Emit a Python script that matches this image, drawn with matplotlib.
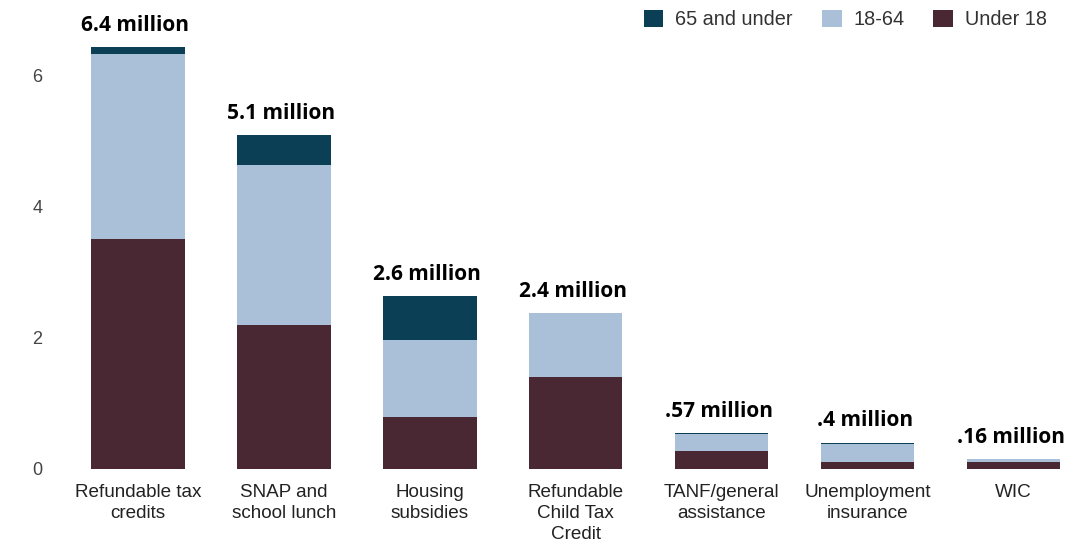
import matplotlib
matplotlib.use("Agg")
import matplotlib.pyplot as plt
from matplotlib.patches import Patch

categories = ["Refundable tax\ncredits", "SNAP and\nschool lunch", "Housing\nsubsidies",
              "Refundable\nChild Tax\nCredit", "TANF/general\nassistance", "Unemployment\ninsurance", "WIC"]
under18 = [3.50, 2.20, 0.79, 1.40, 0.27, 0.10, 0.11]
age18_64 = [2.83, 2.43, 1.18, 0.98, 0.26, 0.28, 0.04]
over65 = [0.10, 0.46, 0.67, 0.00, 0.02, 0.02, 0.00]
totals = [6.43, 5.09, 2.64, 2.38, 0.55, 0.41, 0.15]
total_labels = ["6.4 million", "5.1 million", "2.6 million", "2.4 million",
                ".57 million", ".4 million", ".16 million"]
yticks = [0, 2, 4, 6]

c_under = "#4a2833"
c_mid = "#aac0d9"
c_old = "#0a3f56"

fig = plt.figure(figsize=(10.78, 5.47), dpi=100)
ax = fig.add_axes([0.0575, 0.1426, 0.9397, 0.7843])

x = list(range(len(categories)))
w = 0.64
ax.bar(x, under18, width=w, color=c_under, label="Under 18")
ax.bar(x, age18_64, width=w, bottom=under18, color=c_mid, label="18-64")
b2 = [a + b for a, b in zip(under18, age18_64)]
ax.bar(x, over65, width=w, bottom=b2, color=c_old, label="65 and under")

for xi, t, lab in zip(x, totals, total_labels):
    ax.annotate(lab, (xi, t), xytext=(-2, 8), textcoords="offset points",
                ha="center", va="bottom", fontsize=15, fontweight="bold",
                family="Open Sans", color="black")

ax.set_xlim(-0.52, 6.42)
ax.set_ylim(0, 6.54)
ax.set_yticks(yticks)
ax.set_yticklabels([str(v) for v in yticks], family="Liberation Sans", fontsize=13, color="#444444")
ax.set_xticks(x)
ax.set_xticklabels(categories, family="Liberation Sans", fontsize=13.6, color="#222222",
                   linespacing=1.3, va="top")
ax.tick_params(axis="both", length=0)
ax.tick_params(axis="x", pad=11)
ax.tick_params(axis="y", pad=14)
for s in ax.spines.values():
    s.set_visible(False)

handles = [Patch(facecolor=c_old, label="65 and under"),
           Patch(facecolor=c_mid, label="18-64"),
           Patch(facecolor=c_under, label="Under 18")]
leg = fig.legend(handles=handles, loc="upper right", bbox_to_anchor=(0.988, 1.015), ncol=3,
                 frameon=False, prop={"family": "Liberation Sans", "size": 14.3},
                 handlelength=1.0, handleheight=1.0, columnspacing=1.45, handletextpad=0.6)
for t in leg.get_texts():
    t.set_color("#333333")

fig.savefig("out.png", dpi=100)
